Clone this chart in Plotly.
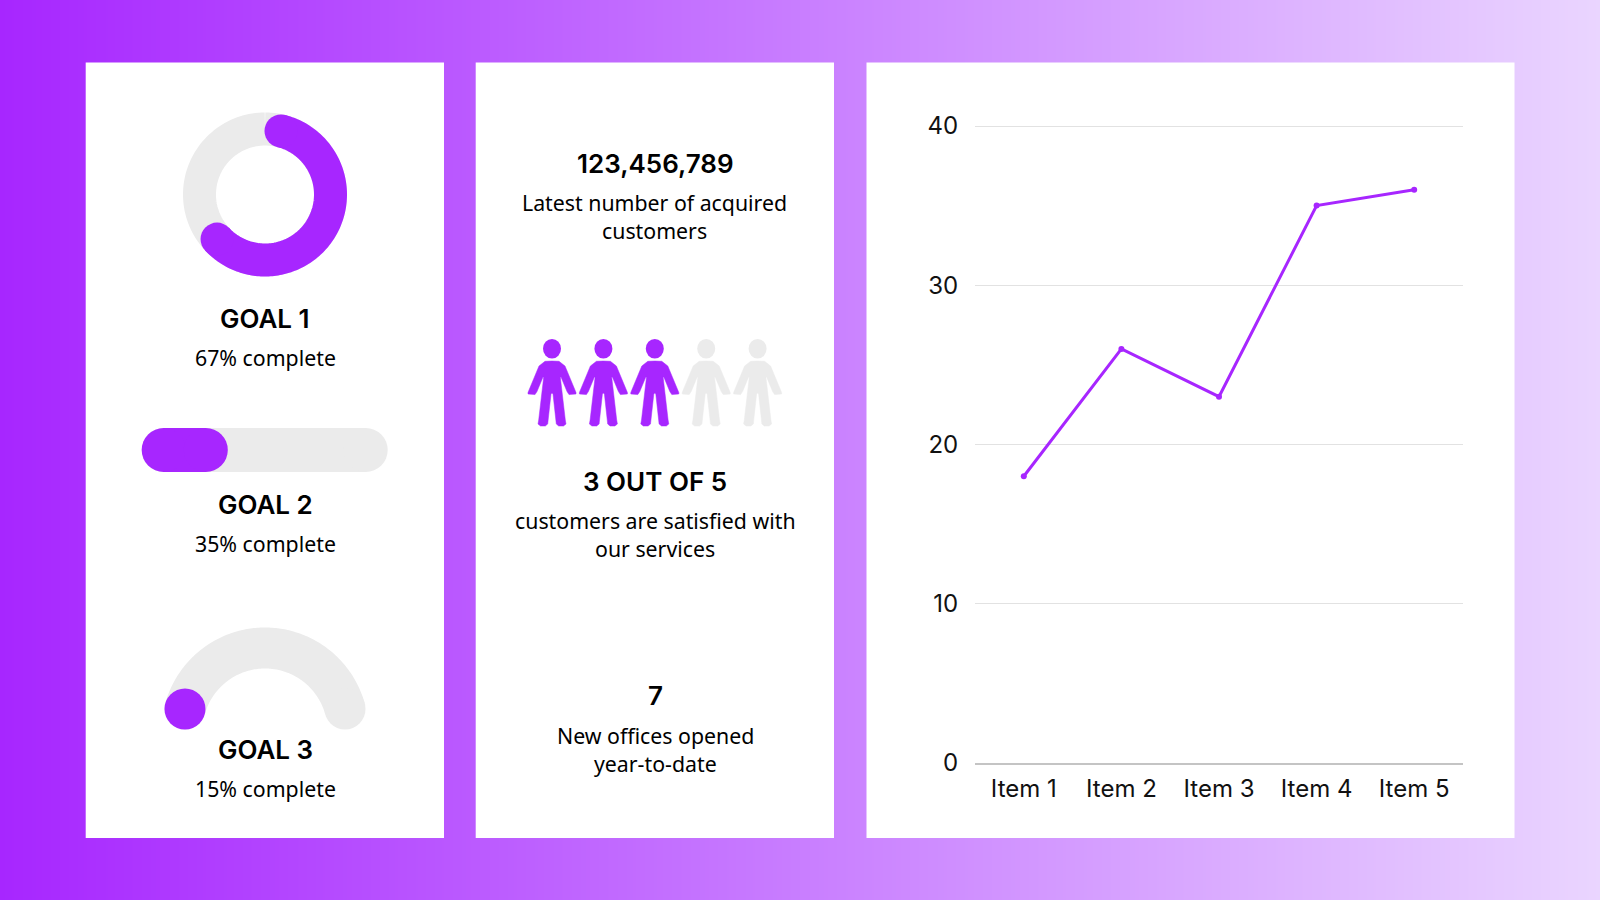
import numpy as np
from plotly import graph_objects as go

# chart values
items = ["Item 1", "Item 2", "Item 3", "Item 4", "Item 5"]
item_values = [18, 26, 23, 35, 36]
y_ticks = [0, 10, 20, 30, 40]

goal_names = ["GOAL 1", "GOAL 2", "GOAL 3"]
goal_percents = [67, 35, 15]
satisfied = 3
customers_total = 5

PURPLE = "#A726FF"
GREY = "#EBEBEB"
TEXT_FONT = "Noto Sans"
HEAD_FONT = "Inter"
CHART_FONT = "Inter"


def arc_xy(cx, cy, r, start, end):
    # angles in degrees, clockwise from 12 o'clock, y axis points down
    a = np.radians(np.linspace(start, end, 160))
    return cx + r * np.sin(a), cy - r * np.cos(a)


def stroke(fig, x, y, color, width):
    fig.add_trace(go.Scatter(x=x, y=y, mode="lines", line=dict(color=color, width=width, simplify=False),
                             hoverinfo="skip", showlegend=False))


def caps(fig, x, y, color, size):
    fig.add_trace(go.Scatter(x=x, y=y, mode="markers",
                             marker=dict(color=color, size=size, line=dict(width=0)),
                             hoverinfo="skip", showlegend=False))


fig = go.Figure()

# page gradient
fig.add_trace(go.Heatmap(x=np.linspace(0, 1600, 321), y=[-10, 910],
                         z=[np.linspace(0, 1, 321), np.linspace(0, 1, 321)],
                         colorscale=[[0, "#A726FF"], [1, "#EAD5FF"]],
                         showscale=False, hoverinfo="skip", zsmooth="best"))

# cards
for left, right in [(85.7, 444), (475.7, 834), (866.5, 1514.5)]:
    fig.add_trace(go.Scatter(x=[left, right, right, left, left], y=[62.5, 62.5, 838, 838, 62.5],
                             mode="lines", fill="toself", fillcolor="white", line=dict(width=0),
                             hoverinfo="skip", showlegend=False))

# goal 1, ring
ring_x, ring_y, ring_r, ring_w = 265, 194.5, 65.5, 33
x, y = arc_xy(ring_x, ring_y, ring_r, 0, 360)
stroke(fig, x, y, GREY, ring_w)
cap_deg = np.degrees(np.arctan(ring_w / 2 / ring_r))
x, y = arc_xy(ring_x, ring_y, ring_r, cap_deg, goal_percents[0] * 3.6 - cap_deg)
stroke(fig, x, y, PURPLE, ring_w)
caps(fig, [x[0], x[-1]], [y[0], y[-1]], PURPLE, ring_w)

# goal 2, pill
bar_l, bar_w, bar_y, bar_h = 141.7, 246, 450, 44
stroke(fig, [bar_l + bar_h / 2, bar_l + bar_w - bar_h / 2], [bar_y, bar_y], GREY, bar_h)
caps(fig, [bar_l + bar_h / 2, bar_l + bar_w - bar_h / 2], [bar_y, bar_y], GREY, bar_h)
bar_end = bar_l + bar_w * goal_percents[1] / 100 - bar_h / 2
stroke(fig, [bar_l + bar_h / 2, bar_end], [bar_y, bar_y], PURPLE, bar_h)
caps(fig, [bar_l + bar_h / 2, bar_end], [bar_y, bar_y], PURPLE, bar_h)

# goal 3, half gauge
arch_x, arch_y, arch_r, arch_w = 265, 731, 83, 41
arch_cap = 74.6
x, y = arc_xy(arch_x, arch_y, arch_r, -arch_cap, arch_cap)
stroke(fig, x, y, GREY, arch_w)
caps(fig, [x[0], x[-1]], [y[0], y[-1]], GREY, arch_w)
caps(fig, [x[0]], [y[0]], PURPLE, arch_w)

# line chart on its own axes
fig.add_trace(go.Scatter(x=items, y=item_values, mode="lines+markers", xaxis="x2", yaxis="y2",
                         line=dict(color=PURPLE, width=3), marker=dict(color=PURPLE, size=6),
                         hoverinfo="skip", showlegend=False))

# people icons, right half of the outline is mirrored
half = [(0, -66), (7, -65.7), (13, -61), (24, -34.5), (24, -33), (17, -32.4), (15, -35.5),
        (9, -50), (8.3, -50), (13.3, -7), (14, -3), (11.5, -1), (6.7, -1), (4.3, -3), (1, -33), (0, -34)]
shapes = []
for i in range(customers_total):
    cx = 552 + 51.4 * i
    color = PURPLE if i < satisfied else GREY
    feet = 427
    pts = [(cx + dx, feet + dy) for dx, dy in half] + [(cx - dx, feet + dy) for dx, dy in reversed(half)]
    path = "M " + " L ".join(f"{px:.1f},{py:.1f}" for px, py in pts) + " Z"
    shapes.append(dict(type="path", path=path, xref="x", yref="y", fillcolor=color,
                       line=dict(color=color, width=0.5), layer="above"))
    shapes.append(dict(type="circle", xref="x", yref="y", x0=cx - 9, x1=cx + 9, y0=339, y1=358.5,
                       fillcolor=color, line=dict(width=0), layer="above"))

# text: x, y, text, is heading
labels = [
    (265, 318, goal_names[0], True),
    (265, 357, f"{goal_percents[0]}% complete", False),
    (265, 504, goal_names[1], True),
    (265, 543.5, f"{goal_percents[1]}% complete", False),
    (265, 749, goal_names[2], True),
    (265, 788, f"{goal_percents[2]}% complete", False),
    (655, 163, "123,456,789", True),
    (654, 202, "Latest number of acquired", False),
    (654, 230.5, "customers", False),
    (655, 481, f"{satisfied} OUT OF {customers_total}", True),
    (655, 520, "customers are satisfied with", False),
    (655, 548, "our services", False),
    (655, 695.5, "7", True),
    (655, 735, "New offices opened", False),
    (655, 763, "year-to-date", False),
]
annotations = []
for tx, ty, text, head in labels:
    font = dict(family=HEAD_FONT, size=26, weight=600, color="#000000") if head \
        else dict(family=TEXT_FONT, size=21.3, color="#000000")
    annotations.append(dict(x=tx, y=ty, xref="x", yref="y", text=text, showarrow=False,
                            xanchor="center", yanchor="middle", font=font))

# one unit above 40 so that the top gridline is kept
unit_px = (762.8 - 126) / 40

fig.update_layout(
    width=1600, height=900, margin=dict(l=0, r=0, t=0, b=0, autoexpand=False),
    paper_bgcolor="white", plot_bgcolor="rgba(0,0,0,0)", showlegend=False,
    shapes=shapes, annotations=annotations,
    xaxis=dict(range=[0, 1600], domain=[0, 1], visible=False, fixedrange=True, automargin=False),
    yaxis=dict(range=[900, 0], domain=[0, 1], visible=False, fixedrange=True, automargin=False),
    xaxis2=dict(domain=[975 / 1600, 1463 / 1600], anchor="y2", type="category", automargin=False,
                categoryorder="array", categoryarray=items, range=[-0.5, 4.5],
                showgrid=False, showline=True, linecolor="#C4C4C4", linewidth=2, zeroline=False,
                ticks="outside", ticklen=3, tickcolor="rgba(0,0,0,0)",
                tickfont=dict(family=CHART_FONT, size=24, color="#111111")),
    yaxis2=dict(domain=[1 - 762.8 / 900, 1 - (126 - unit_px) / 900], anchor="x2", range=[0, 41],
                automargin=False, tickvals=y_ticks, showgrid=True, gridcolor="#E2E2E2", gridwidth=1,
                zeroline=False, ticks="outside", ticklen=11, tickcolor="rgba(0,0,0,0)", showline=False,
                tickfont=dict(family=CHART_FONT, size=24, color="#111111")),
)

fig.write_html("out.html", config=dict(displayModeBar=False),
               post_script="document.body.style.margin='0';document.body.style.overflow='hidden';")
